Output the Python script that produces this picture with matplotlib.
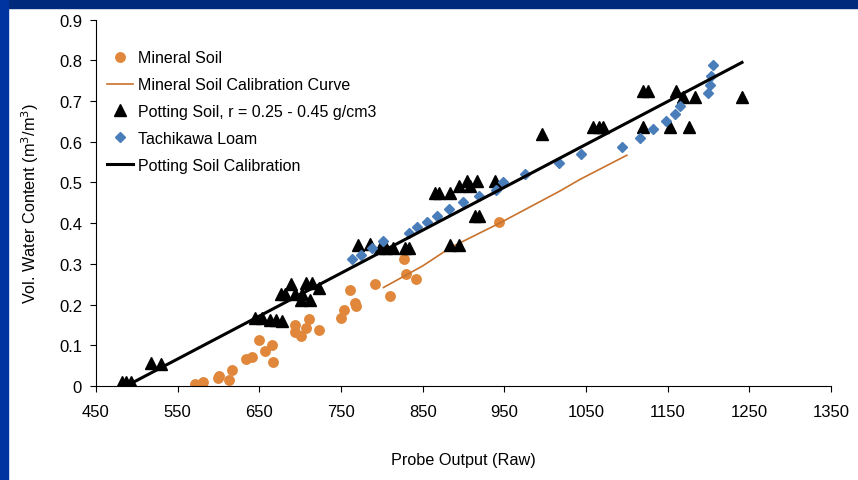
import numpy as np
import matplotlib.pyplot as plt
from matplotlib.patches import Rectangle

plt.rcParams['font.family'] = ['Liberation Sans', 'DejaVu Sans']

# Mineral soil samples
mineral_x = [571, 581, 599, 601, 613, 617, 634, 641, 649, 657, 666, 667, 694, 694, 701,
             707, 711, 723, 750, 754, 761, 767, 768, 792, 810, 827, 830, 842, 944]
mineral_y = [0.006, 0.011, 0.019, 0.025, 0.015, 0.039, 0.066, 0.071, 0.113, 0.086, 0.101,
             0.060, 0.149, 0.132, 0.123, 0.142, 0.164, 0.138, 0.168, 0.187, 0.236, 0.203,
             0.196, 0.250, 0.220, 0.313, 0.276, 0.264, 0.402]

# mineral soil calibration curve
mcurve_x = [802, 850, 884, 944, 1018, 1043, 1100]
mcurve_y = [0.242, 0.295, 0.340, 0.400, 0.479, 0.508, 0.567]

# potting soil samples
potting_x = [482, 487, 493, 517, 530, 645, 653, 663, 670, 678, 676, 681, 689, 694, 701,
             702, 707, 712, 714, 723, 771, 786, 798, 805, 814, 828, 833, 883, 894, 865,
             870, 883, 894, 904, 908, 916, 939, 914, 919, 996, 1059, 1066, 1071, 1120,
             1126, 1160, 1169, 1183, 1241, 1120, 1153, 1176]
potting_y = [0.009, 0.009, 0.009, 0.056, 0.055, 0.166, 0.166, 0.163, 0.162, 0.160, 0.226,
             0.226, 0.250, 0.226, 0.211, 0.226, 0.253, 0.211, 0.253, 0.240, 0.346, 0.349,
             0.338, 0.338, 0.338, 0.338, 0.338, 0.346, 0.346, 0.475, 0.475, 0.475, 0.492,
             0.503, 0.492, 0.503, 0.503, 0.418, 0.418, 0.619, 0.637, 0.637, 0.637, 0.725,
             0.725, 0.725, 0.709, 0.709, 0.709, 0.637, 0.637, 0.637]

# Tachikawa loam samples
tachi_x = [764, 775, 788, 801, 833, 843, 855, 868, 882, 899, 919, 940, 948, 975, 1017,
           1044, 1094, 1116, 1132, 1148, 1159, 1165, 1199, 1202, 1203, 1206]
tachi_y = [0.312, 0.322, 0.340, 0.357, 0.377, 0.390, 0.403, 0.418, 0.435, 0.452, 0.467,
           0.481, 0.500, 0.520, 0.547, 0.569, 0.588, 0.610, 0.631, 0.650, 0.668, 0.687,
           0.720, 0.739, 0.762, 0.788]

# potting soil calibration line
pcal_x = [487, 1241]
pcal_y = [0.0, 0.795]

fig = plt.figure(figsize=(8.58, 4.81), dpi=100)
# blue slide border on top and left
fig.patches.append(Rectangle((0, 1 - 9 / 481), 1, 9 / 481, transform=fig.transFigure,
                             color='#002a7c', zorder=0))
fig.patches.append(Rectangle((0, 0), 8 / 858, 1, transform=fig.transFigure,
                             color='#0034a0', zorder=0))

ax = fig.add_axes([96 / 858, 1 - 387 / 481, 735 / 858, 366.3 / 481])

ax.plot(mineral_x, mineral_y, 'o', color='#e0873b', markersize=6.8, linestyle='none',
        label='Mineral Soil')
ax.plot(mcurve_x, mcurve_y, '-', color='#c8722c', linewidth=1.2,
        label='Mineral Soil Calibration Curve')
ax.plot(potting_x, potting_y, '^', color='black', markersize=8, linestyle='none',
        label='Potting Soil, r = 0.25 - 0.45 g/cm3')
ax.plot(tachi_x, tachi_y, 'D', color='#4a7ebb', markersize=5.5, linestyle='none',
        label='Tachikawa Loam')
ax.plot(pcal_x, pcal_y, '-', color='black', linewidth=2.2,
        label='Potting Soil Calibration')

ax.set_xlim(450, 1350)
ax.set_ylim(0, 0.9)
ax.set_xticks(np.arange(450, 1351, 100))
ax.set_yticks(np.arange(0, 0.91, 0.1))
ax.set_yticklabels(['0', '0.1', '0.2', '0.3', '0.4', '0.5', '0.6', '0.7', '0.8', '0.9'])
ax.tick_params(labelsize=12, length=4, width=0.8, direction='out', pad=6)
ax.tick_params(axis='x', pad=9)
ax.spines['top'].set_visible(False)
ax.spines['right'].set_visible(False)
ax.set_xlabel('Probe Output (Raw)', fontsize=11.7, labelpad=24)
ax.set_ylabel('Vol. Water Content (m$^3$/m$^3$)', fontsize=11.7, labelpad=13)

ax.legend(loc='upper left', bbox_to_anchor=(0.0, 0.947), frameon=False, fontsize=11.5,
          handlelength=1.6, handletextpad=0.3, labelspacing=0.74, borderaxespad=0.3)

plt.savefig('out.png', dpi=100)
